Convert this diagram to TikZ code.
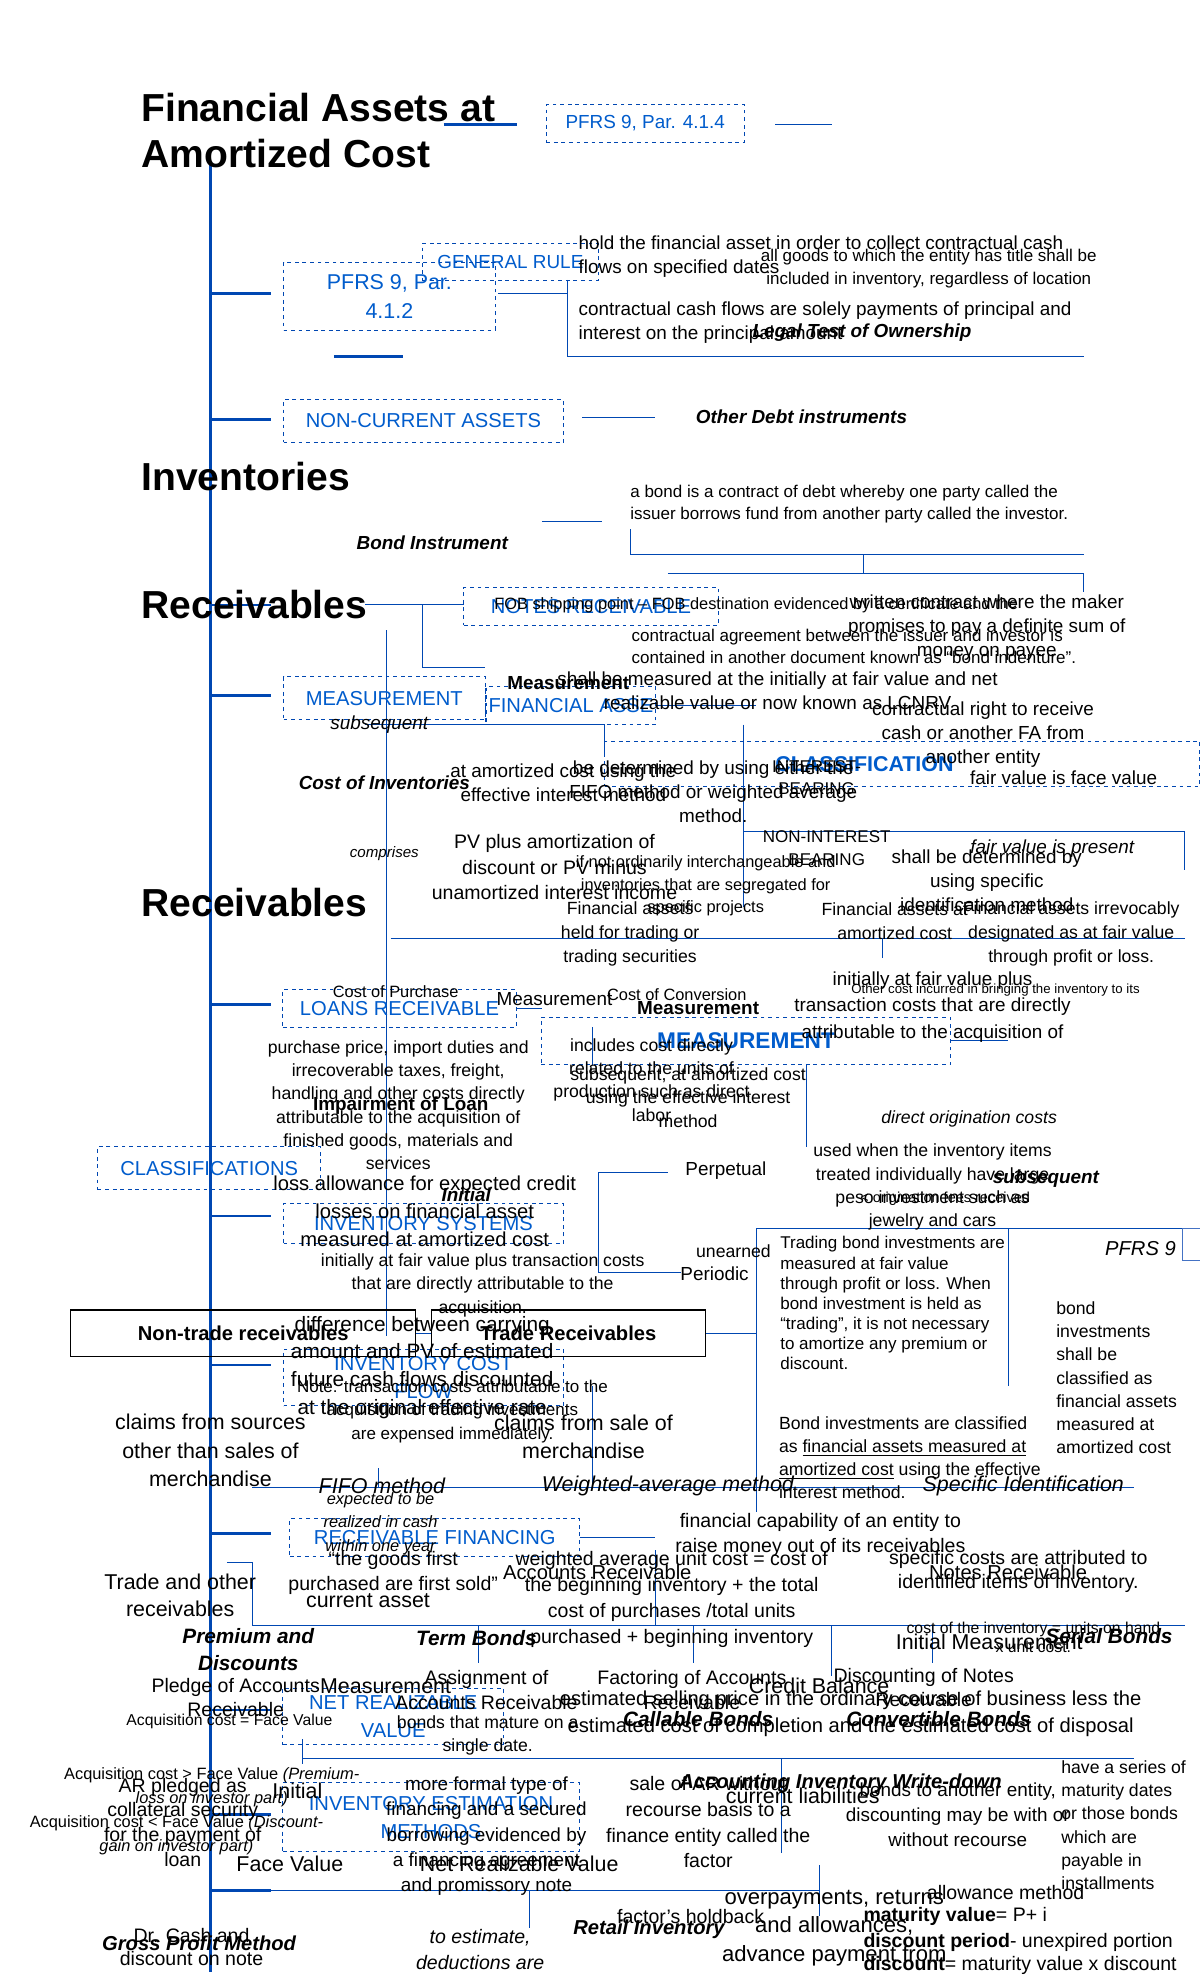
\documentclass[tikz,border=0pt]{standalone}
\usepackage{fontspec}
\setmainfont{Liberation Sans}
\begin{document}
\begin{tikzpicture}[x=1pt,y=-1pt,
 txt/.style={inner sep=0pt,align=center,font=\fontsize{15}{19}\selectfont},
 sm/.style={txt,font=\fontsize{12}{16}\selectfont},
 bi/.style={txt,font=\fontsize{15}{19}\selectfont\bfseries\itshape},
 it/.style={txt,font=\fontsize{15}{19}\selectfont\itshape},
 title/.style={inner sep=0pt,anchor=west,font=\fontsize{31}{30}\selectfont\bfseries},
 dbox/.style={draw=blue!60!cyan!70!black,dashed,thick,text=blue!55!cyan!80!black,align=center,font=\fontsize{15}{17}\selectfont,inner sep=2pt},
 ln/.style={draw=blue!60!cyan!70!black,line width=0.7pt},
 thk/.style={draw=blue!60!cyan!70!black,line width=2pt}]
\useasboundingbox[fill=white] (0,0) rectangle (952,1568);
\definecolor{bl}{HTML}{4472C4}
% spine
\draw[thk] (167,128) -- (167,1565);
\foreach \y in {233,333,480,552,797,965,1083,1217,1357,1440,1500}{\draw[thk] (167,\y) -- (215,\y);}
\draw[thk] (352,99) -- (410,99); \draw[thk] (265,283) -- (320,283);
\draw[ln] (615,99) -- (660,99);
% thin lines
\draw[ln] (450,222) -- (450,283) -- (860,283);
\draw[ln] (395,233) -- (450,233); \draw[ln] (462,331) -- (520,331);
\draw[ln] (430,414) -- (478,414); \draw[ln] (500,420) -- (500,440) -- (860,440);
\draw[ln] (685,440) -- (685,455); \draw[ln] (530,455) -- (860,455) -- (860,470);
\draw[ln] (290,480) -- (368,480); \draw[ln] (335,480) -- (335,530) -- (385,530);
\draw[ln] (307,500) -- (307,1060); \draw[ln] (290,575) -- (480,575);
\draw[ln] (480,575) -- (480,600); \draw[ln] (520,560) -- (600,560);
\draw[ln] (590,575) -- (590,720); \draw[ln] (590,660) -- (940,660) -- (940,690);
\draw[ln] (310,745) -- (940,745); \draw[ln] (700,745) -- (700,760);
\draw[ln] (410,800) -- (430,800); \draw[ln] (470,815) -- (470,845);
\draw[ln] (755,826) -- (800,826); \draw[ln] (640,845) -- (640,910);
\draw[ln] (475,930) -- (530,930) ; \draw[ln] (475,930) -- (475,1010) -- (540,1010);
\draw[ln] (600,975) -- (952,975); \draw[ln] (600,975) -- (600,1200);
\draw[ln] (800,975) -- (800,1100); \draw[ln] (330,1058) -- (343,1058);
\draw[ln] (200,1180) -- (900,1180); \draw[ln] (300,1165) -- (300,1180);
\draw[ln] (470,1100) -- (470,1180); \draw[ln] (560,1058) -- (600,1058);
\draw[ln] (180,1240) -- (200,1240) -- (200,1290) -- (940,1290);
\draw[ln] (460,1220) -- (520,1220); \draw[ln] (520,1230) -- (520,1290);
\draw[ln] (380,1290) -- (380,1320); \draw[ln] (550,1290) -- (550,1320);
\draw[ln] (660,1290) -- (660,1330); \draw[ln] (740,1290) -- (740,1320);
\draw[ln] (240,1395) -- (900,1395); \draw[ln] (240,1380) -- (240,1400);
\draw[ln] (620,1395) -- (620,1470); \draw[ln] (170,1500) -- (650,1500);
\draw[ln] (420,1500) -- (420,1530); \draw[ln] (650,1480) -- (650,1520);
% titles
\node[title] (t1) at (112,85) {Financial Assets at};
\node[title] (t2) at (112,122) {Amortized Cost};
\node[title] (t3) at (112,378) {Inventories};
\node[title] (t4) at (112,480) {Receivables};
\node[title] (t5) at (112,716) {Receivables};
% dashed boxes
\node[dbox,minimum width=157,minimum height=30] at (512,98) {PFRS 9, Par. 4.1.4};
\node[dbox,minimum width=140,minimum height=29] at (405,208) {GENERAL RULE};
\node[dbox,minimum width=168,minimum height=54,font=\fontsize{17}{23}\selectfont] at (309,235) {PFRS 9, Par.\\4.1.2};
\node[dbox,minimum width=222,minimum height=34,font=\fontsize{16}{17}\selectfont] at (336,334) {NON-CURRENT ASSETS};
\node[dbox,minimum width=202,minimum height=30,font=\fontsize{16}{17}\selectfont] at (469,481) {NOTES RECEIVABLE};
\node[dbox,minimum width=160,minimum height=34,font=\fontsize{16}{17}\selectfont] at (305,554) {MEASUREMENT};
\node[dbox,minimum width=134,minimum height=30,font=\fontsize{16}{17}\selectfont] at (453,560) {FINANCIAL ASSE};
\node[dbox,minimum width=472,minimum height=36,font=\fontsize{17}{17}\selectfont\bfseries] at (716,606) {\hspace*{-60pt}CLASSIFICATION};
\node[dbox,minimum width=185,minimum height=30,font=\fontsize{16}{17}\selectfont] at (317,800) {LOANS RECEIVABLE};
\node[dbox,minimum width=325,minimum height=37,font=\fontsize{18}{17}\selectfont\bfseries] at (592,826) {MEASUREMENT};
\node[dbox,minimum width=177,minimum height=34,font=\fontsize{16}{17}\selectfont] at (166,927) {CLASSIFICATIONS};
\node[dbox,minimum width=222,minimum height=32,font=\fontsize{16}{17}\selectfont] at (336,971) {INVENTORY SYSTEMS};
\node[dbox,minimum width=222,minimum height=45,font=\fontsize{16}{22}\selectfont] at (336,1093) {INVENTORY COST\\FLOW};
\node[dbox,minimum width=230,minimum height=30,font=\fontsize{16}{17}\selectfont] at (345,1220) {RECEIVABLE FINANCING};
\node[dbox,minimum width=175,minimum height=45,font=\fontsize{16}{22}\selectfont] at (312,1362) {NET REALIZABLE\\VALUE};
\node[dbox,minimum width=235,minimum height=55,font=\fontsize{16}{22}\selectfont] at (342,1442) {INVENTORY ESTIMATION\\METHODS};
\draw[thick,bl] (938,975) rectangle (955,1000);
\node[draw,thick,minimum width=274,minimum height=37,font=\fontsize{16}{15}\selectfont\bfseries] at (193,1058) {Non-trade receivables};
\node[draw,thick,minimum width=217,minimum height=37,font=\fontsize{16}{15}\selectfont\bfseries] at (451,1058) {Trade Receivables};
% texts
\node[txt,align=left,anchor=west] at (459,204) {hold the financial asset in order to collect contractual cash\\flows on specified dates};
\node[sm,font=\fontsize{13.5}{18}\selectfont] at (737,213) {all goods to which the entity has title shall be\\included in inventory, regardless of location};
\node[txt,align=left,anchor=west] at (459,256) {contractual cash flows are solely payments of principal and\\interest on the principal amount};
\node[bi] at (684,264) {Legal Test of Ownership};
\node[bi] at (636,331) {Other Debt instruments};
\node[txt,align=left,anchor=west,font=\fontsize{13.5}{18}\selectfont] at (500,400) {a bond is a contract of debt whereby one party called the\\issuer borrows fund from another party called the investor.};
\node[bi] at (343,431) {Bond Instrument};
\node[sm,font=\fontsize{13}{16}\selectfont] at (600,480) {FOB shipping point -- FOB destination evidenced by a certificate and the};
\node[txt,align=left,anchor=west,font=\fontsize{13.5}{18}\selectfont] at (501,513) {contractual agreement between the issuer and investor is\\contained in another document known as ``bond indenture''.};
\node[txt] at (783,498) {written contract where the maker\\promises to pay a definite sum of\\money on payee};
\node[txt] at (617,548) {shall be measured at the initially at fair value and net\\realizable value or now known as LCNRV};
\node[txt,font=\fontsize{15}{19}\selectfont\bfseries] at (451,542) {Measurement};
\node[it] at (301,575) {subsequent};
\node[txt] at (780,583) {contractual right to receive\\cash or another FA from\\another entity};
\node[txt] at (844,617) {fair value is face value};
\node[bi] at (305,621) {Cost of Inventories};
\node[txt] at (447,621) {at amortized cost using the\\effective interest method};
\node[txt] at (566,628) {be determined by using either the\\FIFO method or weighted average\\method.};
\node[txt,font=\fontsize{13.5}{18}\selectfont] at (648,617) {INTEREST-\\BEARING};
\node[txt,font=\fontsize{13.5}{18}\selectfont] at (656,673) {NON-INTEREST\\BEARING};
\node[sm,font=\fontsize{12}{16}\selectfont\itshape] at (305,677) {comprises};
\node[txt,font=\fontsize{15.5}{20}\selectfont] at (440,688) {PV plus amortization of\\discount or PV minus\\unamortized interest income};
\node[sm,font=\fontsize{13}{18}\selectfont] at (560,703) {if not ordinarily interchangeable and\\inventories that are segregated for\\specific projects};
\node[txt] at (783,699) {shall be determined by\\using specific\\identification method};
\node[it,font=\fontsize{15}{19}\selectfont\itshape] at (835,673) {fair value is present};
\node[txt,font=\fontsize{14}{19}\selectfont] at (500,741) {Financial assets\\held for trading or\\trading securities};
\node[txt,font=\fontsize{14}{19}\selectfont] at (710,731) {Financial assets at\\amortized cost};
\node[txt,font=\fontsize{14}{19}\selectfont] at (850,741) {Financial assets irrevocably\\designated as at fair value\\through profit or loss.};
\node[sm,font=\fontsize{13}{16}\selectfont] at (314,787) {Cost of Purchase};
\node[sm,font=\fontsize{13}{16}\selectfont] at (537,789) {Cost of Conversion};
\node[txt,font=\fontsize{15}{19}\selectfont] at (440,793) {Measurement};
\node[txt,font=\fontsize{15}{19}\selectfont\bfseries] at (554,800) {Measurement};
\node[txt,font=\fontsize{15}{21}\selectfont] at (740,799) {initially at fair value plus\\transaction costs that are directly\\attributable to the acquisition of};
\node[sm,font=\fontsize{10.5}{13}\selectfont] at (790,786) {Other cost incurred in bringing the inventory to its};
\node[txt,font=\fontsize{14}{18.5}\selectfont] at (316,877) {purchase price, import duties and\\irrecoverable taxes, freight,\\handling and other costs directly\\attributable to the acquisition of\\finished goods, materials and\\services};
\node[txt,font=\fontsize{14}{18.5}\selectfont] at (517,857) {includes cost directly\\related to the units of\\production such as direct\\labor};
\node[txt,font=\fontsize{14}{18.5}\selectfont] at (546,871) {subsequent, at amortized cost\\using the effective interest\\method};
\node[txt,font=\fontsize{15}{19}\selectfont\bfseries] at (318,877) {Impairment of Loan};
\node[it,font=\fontsize{14}{19}\selectfont\itshape] at (769,888) {direct origination costs};
\node[txt,font=\fontsize{14}{18.5}\selectfont] at (740,942) {used when the inventory items\\treated individually have large\\peso investment such as\\jewelry and cars};
\node[bi] at (830,935) {subsequent};
\node[txt,font=\fontsize{15}{19}\selectfont] at (576,929) {Perpetual};
\node[txt,font=\fontsize{16}{22}\selectfont] at (337,961) {loss allowance for expected credit\\losses on financial asset\\measured at amortized cost};
\node[bi] at (370,948) {Initial};
\node[sm,font=\fontsize{11.5}{14}\selectfont] at (750,951) {< origination fees received};
\node[txt,align=left,anchor=north west,font=\fontsize{13.5}{16}\selectfont] at (619,981) {Trading bond investments are\\measured at fair value\\through profit or loss. When\\bond investment is held as\\``trading'', it is not necessary\\to amortize any premium or\\discount.};
\node[txt,font=\fontsize{14}{18}\selectfont] at (582,993) {unearned};
\node[txt,font=\fontsize{15}{19}\selectfont] at (567,1011) {Periodic};
\node[it,font=\fontsize{16}{19}\selectfont\itshape] at (905,991) {PFRS 9};
\node[txt,font=\fontsize{14}{18.5}\selectfont] at (383,1020) {initially at fair value plus transaction costs\\that are directly attributable to the\\acquisition.};
\node[txt,align=left,anchor=north west,font=\fontsize{14}{18.3}\selectfont] at (838,1033) {bond\\investments\\shall be\\classified as\\financial assets\\measured at\\amortized cost};
\node[txt,font=\fontsize{16.5}{22}\selectfont] at (335,1085) {difference between carrying\\amount and PV of estimated\\future cash flows discounted\\at the original effective rate};
\node[txt,font=\fontsize{13.5}{18.5}\selectfont] at (359,1120) {Note: transaction costs attributable to the\\acquisition of trading investments\\are expensed immediately.};
\node[txt,font=\fontsize{17}{22.5}\selectfont] at (167,1151) {claims from sources\\other than sales of\\merchandise};
\node[txt,font=\fontsize{17}{22}\selectfont] at (463,1140) {claims from sale of\\merchandise};
\node[txt,align=left,anchor=west,font=\fontsize{14}{18.3}\selectfont] at (618,1157) {Bond investments are classified\\as \underline{financial assets measured at}\\\underline{amortized cost} using the effective\\interest method.};
\node[it,font=\fontsize{17}{19}\selectfont\itshape] at (303,1179) {FIFO method};
\node[it,font=\fontsize{17}{19}\selectfont\itshape] at (530,1179) {Weighted-average method};
\node[it,font=\fontsize{17}{19}\selectfont\itshape] at (812,1179) {Specific Identification};
\node[sm,font=\fontsize{13}{18.5}\selectfont\itshape] at (302,1209) {expected to be\\realized in cash\\within one year};
\node[txt,font=\fontsize{15.5}{20}\selectfont] at (651,1218) {financial capability of an entity to\\raise money out of its receivables};
\node[txt,font=\fontsize{15.5}{20}\selectfont] at (312,1248) {``the goods first\\purchased are first sold''};
\node[txt,font=\fontsize{15.5}{20.5}\selectfont] at (533,1269) {weighted average unit cost = cost of\\the beginning inventory + the total\\cost of purchases /total units\\purchased + beginning inventory};
\node[txt,font=\fontsize{16}{19}\selectfont] at (474,1248) {Accounts Receivable};
\node[txt,font=\fontsize{15.5}{19}\selectfont] at (808,1247) {specific costs are attributed to\\identified items of inventory.};
\node[txt,font=\fontsize{16}{19}\selectfont] at (800,1248) {Notes Receivable};
\node[txt,font=\fontsize{17}{22}\selectfont] at (143,1266) {Trade and other\\receivables};
\node[txt,font=\fontsize{17}{19}\selectfont] at (292,1270) {current asset};
\node[sm,font=\fontsize{12.5}{15}\selectfont] at (820,1299) {cost of the inventory = units on hand\\x unit cost.};
\node[bi,font=\fontsize{16.5}{22}\selectfont\bfseries\itshape] at (197,1309) {Premium and\\Discounts};
\node[bi,font=\fontsize{16.5}{19}\selectfont\bfseries\itshape] at (378,1300) {Term Bonds};
\node[txt,font=\fontsize{17}{19}\selectfont] at (785,1303) {Initial Measurement};
\node[bi,font=\fontsize{16.5}{19}\selectfont\bfseries\itshape] at (880,1298) {Serial Bonds};
\node[txt,font=\fontsize{15.5}{19}\selectfont] at (187,1347) {Pledge of Accounts\\Receivable};
\node[txt,font=\fontsize{17}{19}\selectfont] at (306,1338) {Measurement};
\node[txt,font=\fontsize{15.5}{20}\selectfont] at (386,1341) {Assignment of\\Accounts Receivable};
\node[txt,font=\fontsize{15.5}{20}\selectfont] at (549,1341) {Factoring of Accounts\\Receivable};
\node[txt,font=\fontsize{17}{19}\selectfont] at (650,1338) {Credit Balance};
\node[txt,font=\fontsize{15.5}{19}\selectfont] at (733,1339) {Discounting of Notes\\Receivable};
\node[txt,font=\fontsize{16}{21}\selectfont] at (675,1360) {estimated selling price in the ordinary course of business less the\\estimated cost of completion and the estimated cost of disposal};
\node[sm,font=\fontsize{12.5}{15}\selectfont] at (182,1366) {Acquisition cost = Face Value};
\node[txt,font=\fontsize{14}{18}\selectfont] at (387,1377) {bonds that mature on a\\single date.};
\node[bi,font=\fontsize{16.5}{19}\selectfont\bfseries\itshape] at (554,1364) {Callable Bonds};
\node[bi,font=\fontsize{16.5}{19}\selectfont\bfseries\itshape] at (745,1364) {Convertible Bonds};
\node[sm,font=\fontsize{13}{19}\selectfont] at (168,1418) {Acquisition cost > Face Value \textit{(Premium-}\\\textit{loss on investor part)}};
\node[txt,font=\fontsize{15.5}{19.5}\selectfont] at (145,1446) {AR pledged as\\collateral security\\for the payment of\\loan};
\node[txt,font=\fontsize{17}{19}\selectfont] at (236,1421) {Initial};
\node[txt,font=\fontsize{15}{20.2}\selectfont] at (386,1457) {more formal type of\\financing and a secured\\borrowing evidenced by\\a financing agreement\\and promissory note};
\node[txt,font=\fontsize{15.5}{20.3}\selectfont] at (562,1446) {sale of AR without\\recourse basis to a\\finance entity called the\\factor};
\node[bi,font=\fontsize{16}{19}\selectfont\bfseries\itshape] at (667,1415) {Accounting Inventory Write-down};
\node[txt,align=left,anchor=north west,font=\fontsize{14}{18.4}\selectfont] at (842,1397) {have a series of\\maturity dates\\or those bonds\\which are\\payable in\\installments};
\node[sm,font=\fontsize{13}{19}\selectfont] at (140,1456) {Acquisition cost < Face Value \textit{(Discount-}\\\textit{gain on investor part)}};
\node[txt,font=\fontsize{17}{19}\selectfont] at (230,1479) {Face Value};
\node[txt,font=\fontsize{17}{19}\selectfont] at (412,1479) {Net Realizable Value};
\node[txt,font=\fontsize{17}{19}\selectfont] at (637,1425) {current liabilities};
\node[txt,font=\fontsize{15}{20}\selectfont] at (760,1440) {bonds to another entity,\\discounting may be with or\\without recourse};
\node[txt,font=\fontsize{15.5}{19}\selectfont] at (798,1502) {allowance method};
\node[txt,font=\fontsize{17.5}{22.5}\selectfont] at (662,1530) {overpayments, returns\\and allowances,\\advance payment from};
\node[txt,font=\fontsize{15.5}{19}\selectfont] at (548,1521) {factor's holdback};
\node[txt,anchor=west,font=\fontsize{15.5}{19}\selectfont] at (685,1521) {\textbf{maturity value}= P+ i};
\node[txt,anchor=west,font=\fontsize{15.5}{19}\selectfont] at (685,1541) {\textbf{discount period}- unexpired portion};
\node[txt,anchor=west,font=\fontsize{15.5}{19}\selectfont] at (685,1560) {\textbf{discount}= maturity value x discount};
\node[txt,font=\fontsize{15.5}{19}\selectfont] at (152,1545) {Dr. Cash and\\discount on note};
\node[bi,font=\fontsize{16}{19}\selectfont\bfseries\itshape] at (158,1542) {Gross Profit Method};
\node[it,font=\fontsize{15.5}{20}\selectfont\itshape] at (381,1547) {to estimate,\\deductions are};
\node[bi,font=\fontsize{16}{19}\selectfont\bfseries\itshape] at (515,1531) {Retail Inventory};
\end{tikzpicture}
\end{document}
